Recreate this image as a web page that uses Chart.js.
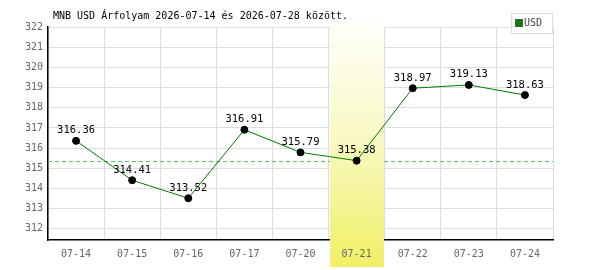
<!DOCTYPE html>
<html><head><meta charset="utf-8">
<script src="https://cdn.jsdelivr.net/npm/chart.js@4/dist/chart.umd.min.js"></script>
<style>html,body{margin:0;padding:0;background:#fff}#wrap{width:600px;height:270px}</style>
</head><body><div id="wrap"><canvas id="c" width="600" height="270"></canvas></div>
<script>
const titleText = "MNB USD Árfolyam 2026-07-14 és 2026-07-28 között.";
const categories = ["07-14","07-15","07-16","07-17","07-20","07-21","07-22","07-23","07-24"];
const usdValues = [316.36,314.41,313.52,316.91,315.79,315.38,318.97,319.13,318.63];
const yTicks = [312,313,314,315,316,317,318,319,320,321,322];
const seriesName = "USD";
const highlightIndex = 5;
const referenceValue = 315.38;

const FONT = "'DejaVu Sans Mono', 'Liberation Mono', monospace";

const extras = {
  id: 'extras',
  beforeDraw(chart){
    const ctx = chart.ctx;
    ctx.save();
    ctx.fillStyle = '#000';
    ctx.font = '10px ' + FONT;
    ctx.textBaseline = 'middle';
    ctx.textAlign = 'left';
    ctx.fillText(titleText, 53, 16);
    ctx.restore();
  },
  beforeDatasetsDraw(chart){
    const ctx = chart.ctx, a = chart.chartArea;
    const x = chart.scales.x, y = chart.scales.y;
    // reference dashed line
    const ry = Math.round(y.getPixelForValue(referenceValue)) + 0.5;
    ctx.save();
    ctx.strokeStyle = '#66c066';
    ctx.lineWidth = 1;
    ctx.setLineDash([4,3]);
    ctx.beginPath(); ctx.moveTo(a.left, ry); ctx.lineTo(a.right, ry); ctx.stroke();
    ctx.restore();
    // highlight band
    const step = (a.right - a.left) / categories.length;
    const cx = x.getPixelForValue(highlightIndex);
    const x0 = Math.round(cx - step/2) + 1, x1 = Math.round(cx + step/2) - 1;
    const top = a.top - 6, bottom = chart.height - 3;
    const g = ctx.createLinearGradient(0, top, 0, bottom);
    g.addColorStop(0, '#fffffa');
    g.addColorStop(0.45, '#f9f9c8');
    g.addColorStop(1, '#f0f066');
    ctx.save();
    ctx.fillStyle = g;
    ctx.fillRect(x0, top, x1 - x0, bottom - top);
    ctx.restore();
  },
  afterDatasetsDraw(chart){
    const ctx = chart.ctx;
    const meta = chart.getDatasetMeta(0);
    ctx.save();
    ctx.fillStyle = '#000';
    ctx.font = '10.5px ' + FONT;
    ctx.textAlign = 'center';
    ctx.textBaseline = 'bottom';
    meta.data.forEach((pt, i) => {
      ctx.fillText(usdValues[i].toFixed(2), pt.x, pt.y - 5);
    });
    // legend
    ctx.fillStyle = '#fff';
    ctx.fillRect(511, 13, 42, 20);
    ctx.strokeStyle = '#dddddd';
    ctx.lineWidth = 1;
    ctx.strokeRect(511.5, 13.5, 41, 20);
    ctx.fillStyle = '#008000';
    ctx.fillRect(516, 20, 6, 6);
    ctx.strokeStyle = '#555';
    ctx.strokeRect(515.5, 19.5, 7, 7);
    ctx.fillStyle = '#444';
    ctx.font = '10px ' + FONT;
    ctx.textAlign = 'left';
    ctx.textBaseline = 'middle';
    ctx.fillText(seriesName, 524, 23);
    ctx.restore();
  }
};

new Chart(document.getElementById('c'), {
  type: 'line',
  data: {
    labels: categories,
    datasets: [{
      label: seriesName,
      data: usdValues,
      borderColor: '#007a00',
      borderWidth: 1,
      pointBackgroundColor: '#000',
      pointBorderColor: '#000',
      pointRadius: 3.5,
      pointBorderWidth: 1,
      tension: 0,
      fill: false
    }]
  },
  options: {
    responsive: false,
    animation: false,
    events: [],
    layout: { padding: { left: 0, right: 47, top: 27, bottom: 0 } },
    plugins: { legend: { display: false }, tooltip: { enabled: false }, title: { display: false } },
    scales: {
      x: {
        offset: true,
        grid: { offset: true, color: '#dddddd', lineWidth: 1, drawTicks: false },
        border: { color: '#000', width: 1.5 },
        ticks: { color: '#666', font: { family: FONT, size: 10 }, padding: 8, maxRotation: 0, autoSkip: false, z: 1 },
        afterFit(s){ s.height = 30; }
      },
      y: {
        min: 311.45, max: 322,
        afterBuildTicks(s){ s.ticks = yTicks.map(v => ({ value: v })); },
        grid: { color: '#dddddd', lineWidth: 1, drawTicks: false },
        border: { color: '#000', width: 1.5 },
        ticks: { color: '#666', font: { family: FONT, size: 10 }, padding: 5 },
        afterFit(s){ s.width = 48; }
      }
    }
  },
  plugins: [extras]
});
</script>
</body></html>
